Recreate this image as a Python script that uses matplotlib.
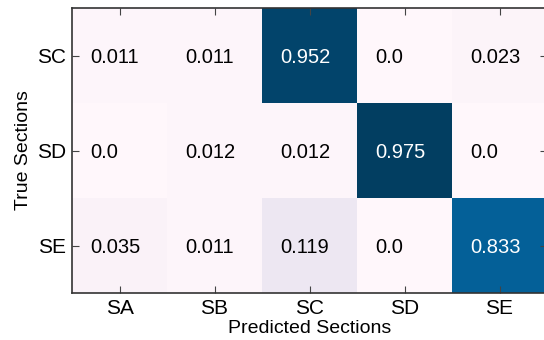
import numpy as np
import matplotlib
matplotlib.use("Agg")
import matplotlib.pyplot as plt

plt.rcParams['font.family'] = ['Liberation Sans', 'DejaVu Sans']

true_labels = ["SC", "SD", "SE"]
pred_labels = ["SA", "SB", "SC", "SD", "SE"]
row_sc = [0.011, 0.011, 0.952, 0.0, 0.023]
row_sd = [0.0, 0.012, 0.012, 0.975, 0.0]
row_se = [0.035, 0.011, 0.119, 0.0, 0.833]

cm = np.array([row_sc, row_sd, row_se])

fig = plt.figure(figsize=(5.44, 3.40), dpi=100)
ax = fig.add_axes([72/544, 47/340, 475/544, 285/340])
ax.imshow(cm, cmap='PuBu', vmin=0, vmax=1, aspect='auto', interpolation='nearest')

for i in range(cm.shape[0]):
    for j in range(cm.shape[1]):
        v = cm[i, j]
        ax.text(j - 0.31, i + 0.02, str(v), ha='left', va='center', fontsize=14.5,
                color='white' if v > 0.5 else 'black')

ax.set_xticks(range(len(pred_labels)))
ax.set_xticklabels(pred_labels)
ax.set_yticks(range(len(true_labels)))
ax.set_yticklabels(true_labels)
ax.tick_params(direction='in', top=True, right=True, labelsize=15, length=5,
               color='#444444', pad=4)
for s in ax.spines.values():
    s.set_color('#333333')
    s.set_linewidth(1.2)
ax.set_xlabel("Predicted Sections", fontsize=14, labelpad=2)
ax.set_ylabel("True Sections", fontsize=14, labelpad=4)

fig.savefig("out.png", dpi=100)
